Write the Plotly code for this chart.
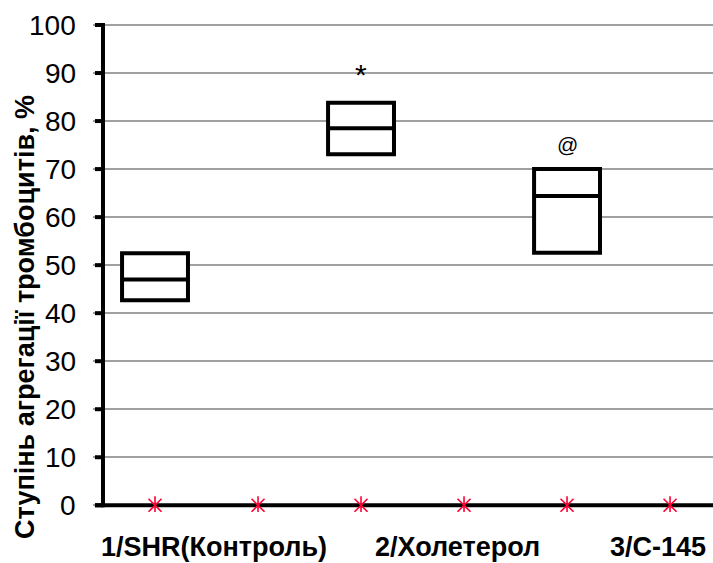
import plotly.graph_objects as go

# ---- data ----
categories = [1, 2, 3, 4, 5, 6]
zero_series = [0, 0, 0, 0, 0, 0]
box_x = [1, 3, 5]
low_vals = [42.7, 73.1, 52.6]
mid_vals = [47.0, 78.5, 64.4]
high_vals = [52.5, 83.8, 70.0]
sig_marks = ["", "*", "@"]
group_labels = ["1/SHR(Контроль)", "2/Холетерол", "3/С-145"]
group_label_pos = [1.568, 3.937, 5.879]
y_ticks = [0, 10, 20, 30, 40, 50, 60, 70, 80, 90, 100]
y_title = "Ступінь агрегації тромбоцитів, %"

FONT = "Liberation Sans, Arial, sans-serif"
mark_size = {"*": 30, "@": 21}
mark_shift = {"*": 28, "@": 25}

# axis geometry in data units
X_MIN, X_MAX = 0.398, 6.417
AXIS_X = 0.495       # centre of vertical axis line
AXIS_W = 0.0388      # 4 px in x units
TICK_LEFT = 0.417    # left end of tick marks / horizontal axis line
LINE_H = 0.833       # 4 px in y units
Y_MIN, Y_MAX = -1.4, 100.42

fig = go.Figure()

fig.add_trace(go.Box(
    x=box_x, q1=low_vals, median=mid_vals, q3=high_vals,
    lowerfence=low_vals, upperfence=high_vals,
    width=0.64, whiskerwidth=0,
    line=dict(color="black", width=4), fillcolor="white",
    boxpoints=False, hoverinfo="skip", showlegend=False,
))

# axis lines and ticks as filled bars
fig.add_trace(go.Bar(x=[AXIS_X], y=[Y_MAX + 0.42], base=[-0.42], width=AXIS_W,
                     marker=dict(color="black", line=dict(width=0)),
                     showlegend=False, hoverinfo="skip"))
fig.add_trace(go.Bar(orientation="h", y=[0], x=[X_MAX - TICK_LEFT], base=[TICK_LEFT],
                     width=LINE_H, marker=dict(color="black", line=dict(width=0)),
                     showlegend=False, hoverinfo="skip"))
fig.add_trace(go.Bar(orientation="h", y=y_ticks,
                     x=[AXIS_X - TICK_LEFT] * len(y_ticks),
                     base=[TICK_LEFT] * len(y_ticks), width=LINE_H,
                     marker=dict(color="black", line=dict(width=0)),
                     showlegend=False, hoverinfo="skip"))

for sym in ["x-thin-open", "line-ns-open"]:
    fig.add_trace(go.Scatter(
        x=categories, y=zero_series, mode="markers",
        marker=dict(symbol=sym, size=13, color="#ff0033",
                    line=dict(color="#ff0033", width=1.6)),
        showlegend=False, hoverinfo="skip",
    ))

annotations = []
for t in y_ticks:
    annotations.append(dict(x=-0.0242, y=t, xref="paper", yref="y", text=str(t),
                            showarrow=False, xanchor="right", yanchor="middle",
                            font=dict(family=FONT, size=28, color="black")))
for xv, hv, m in zip(box_x, high_vals, sig_marks):
    if m:
        annotations.append(dict(x=xv, y=hv, xref="x", yref="y", text=m,
                                showarrow=False, yanchor="middle", yshift=mark_shift[m],
                                font=dict(family=FONT, size=mark_size[m], color="black")))
for xv, t in zip(group_label_pos, group_labels):
    annotations.append(dict(x=xv, y=-0.0716, xref="x", yref="paper",
                            text=f"<b>{t}</b>", showarrow=False,
                            yanchor="middle", xanchor="center",
                            font=dict(family=FONT, size=27, color="black")))
annotations.append(dict(x=-0.1097, y=0.3988, xref="paper", yref="paper",
                        text=f"<b>{y_title}</b>", textangle=-90, showarrow=False,
                        xanchor="center", yanchor="middle",
                        font=dict(family=FONT, size=27, color="black")))

fig.update_layout(
    width=713, height=563,
    margin=dict(l=93, r=0, t=23, b=51),
    paper_bgcolor="white", plot_bgcolor="white",
    barmode="overlay",
    annotations=annotations,
    xaxis=dict(range=[X_MIN, X_MAX], showgrid=False, zeroline=False,
               showticklabels=False, ticks="", showline=False),
    yaxis=dict(range=[Y_MIN, Y_MAX], tickvals=y_ticks, showgrid=True,
               gridcolor="#a0a0a0", gridwidth=1.5, zeroline=False,
               showline=False, ticks="", showticklabels=False),
)

fig.write_html("out.html")
